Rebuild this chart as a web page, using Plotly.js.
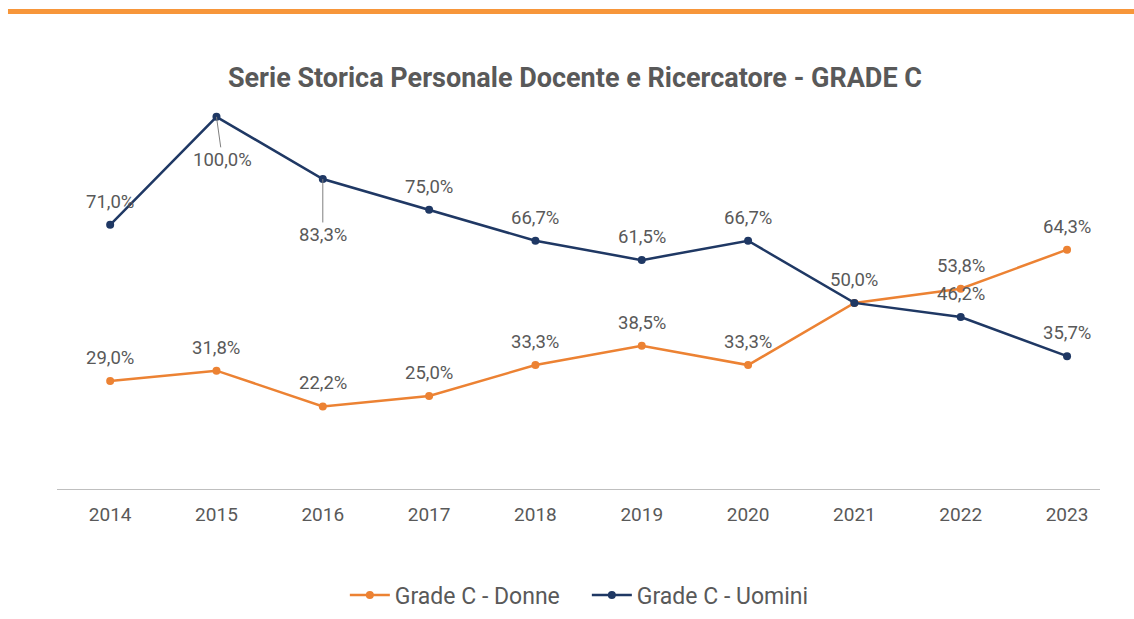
<!DOCTYPE html>
<html>
<head>
<meta charset="utf-8">
<script src="https://cdn.plot.ly/plotly-3.0.1.min.js"></script>
<style>
  html, body { margin: 0; padding: 0; background: #ffffff; }
  #chart { width: 1134px; height: 619px; }
</style>
</head>
<body>
<div id="chart"></div>
<script>
const years = ['2014','2015','2016','2017','2018','2019','2020','2021','2022','2023'];
const donne = [29.0, 31.8, 22.2, 25.0, 33.3, 38.5, 33.3, 50.0, 53.8, 64.3];
const uomini = [71.0, 100.0, 83.3, 75.0, 66.7, 61.5, 66.7, 50.0, 46.2, 35.7];
const donneName = 'Grade C - Donne';
const uominiName = 'Grade C - Uomini';
const titleText = 'Serie Storica Personale Docente e Ricercatore - GRADE C';

const orange = '#EC8233';
const navy = '#1F3864';
const labelGray = '#595959';
const fontFam = 'Roboto, "Open Sans", sans-serif';

function fmt(v) { return v.toFixed(1).replace('.', ',') + '%'; }

const traces = [
  { x: years, y: donne, name: donneName, type: 'scatter', mode: 'lines+markers',
    line: { color: orange, width: 2.5 }, marker: { color: orange, size: 8 }, hoverinfo: 'skip' },
  { x: years, y: uomini, name: uominiName, type: 'scatter', mode: 'lines+markers',
    line: { color: navy, width: 2.5 }, marker: { color: navy, size: 8 }, hoverinfo: 'skip' }
];

const labelFont = { family: fontFam, size: 18.5, color: labelGray };
const annotations = [];
// Uomini labels (category axis: annotation x uses the category index)
uomini.forEach((v, i) => {
  const a = { x: i, y: v, xref: 'x', yref: 'y', text: fmt(v), font: labelFont, showarrow: false, yshift: 23 };
  if (i === 1) { Object.assign(a, { showarrow: true, ax: 6, ay: 43, arrowhead: 0, arrowwidth: 1, arrowcolor: '#7F7F7F', standoff: 0, yshift: 0 }); }
  if (i === 2) { Object.assign(a, { showarrow: true, ax: 0, ay: 56, arrowhead: 0, arrowwidth: 1, arrowcolor: '#7F7F7F', standoff: 0, yshift: 0 }); }
  annotations.push(a);
});
// Donne labels (2021 shares the single label with Uomini)
donne.forEach((v, i) => {
  if (i === 7) return;
  annotations.push({ x: i, y: v, xref: 'x', yref: 'y', text: fmt(v), font: labelFont, showarrow: false, yshift: 23 });
});

const layout = {
  width: 1134, height: 619,
  paper_bgcolor: '#ffffff', plot_bgcolor: '#ffffff',
  margin: { l: 57, r: 34, t: 61, b: 130, autoexpand: false },
  font: { family: fontFam, color: labelGray },
  title: { text: '<b>' + titleText + '</b>', font: { family: fontFam, size: 27, color: labelGray },
           x: 0.507, xanchor: 'center', y: 1 - 78/619, yanchor: 'middle', yref: 'container' },
  xaxis: { type: 'category', range: [-0.5, 9.31], showgrid: false, zeroline: false,
           showline: true, linecolor: '#BFBFBF', linewidth: 1, ticks: '',
           tickfont: { family: fontFam, size: 19, color: labelGray }, ticklabelstandoff: 8, fixedrange: true },
  yaxis: { range: [0, 115], showgrid: false, zeroline: false, showline: false, showticklabels: false, ticks: '', fixedrange: true },
  showlegend: true,
  legend: { orientation: 'h', x: 0.508, xanchor: 'center', y: 1 - 595/619, yanchor: 'middle', yref: 'container',
            font: { family: fontFam, size: 23, color: labelGray }, itemwidth: 40, entrywidth: 187, bgcolor: 'rgba(0,0,0,0)' },
  annotations: annotations,
  shapes: [
    { type: 'rect', xref: 'paper', yref: 'paper', x0: -0.047, x1: 1.033, y0: (489-14)/428, y1: (489-9)/428,
      fillcolor: '#F7963A', line: { width: 0 }, layer: 'above' }
  ]
};

Plotly.newPlot('chart', traces, layout, { displayModeBar: false, staticPlot: true });
</script>
</body>
</html>
